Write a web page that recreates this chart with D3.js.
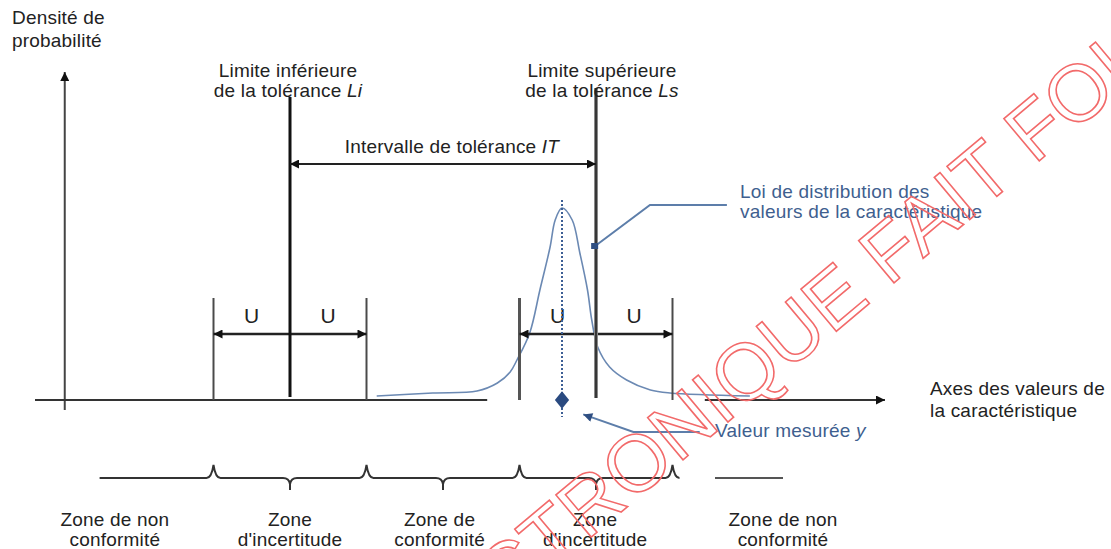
<!DOCTYPE html>
<html>
<head>
<meta charset="utf-8">
<script src="https://cdn.jsdelivr.net/npm/d3@7"></script>
<style>
  body { margin: 0; background: #fff; }
  svg text { font-family: "Liberation Sans", Arial, sans-serif; font-size: 19px; letter-spacing: 0.2px; fill: #222; }
  .blue { fill: #3f5f8f; }
</style>
</head>
<body>
<svg id="chart-area"></svg>
<script>
// Canvas size
const width = 1111, height = 549;

// Tolerance values (in units of the characteristic)
const Li = 30;          // lower tolerance limit
const Ls = 66;          // upper tolerance limit
const U = 9;            // measurement uncertainty
const yMeasured = 62;   // measured value

// Distribution curve
const curveX = [40.2, 46.8, 52.0, 54.4, 55.9, 56.7, 58.2, 59.4, 60.6, 61.2, 62.0, 63.2, 64.1, 65.0, 65.5, 66.2, 67.6, 69.6, 72.4, 74.7, 84.1];
const curveY = [0.02, 0.035, 0.045, 0.085, 0.14, 0.20, 0.335, 0.55, 0.765, 0.90, 0.96, 0.90, 0.735, 0.55, 0.40, 0.265, 0.165, 0.10, 0.05, 0.035, 0.02];

// Zones under the axis
const zoneBounds = [Li - U, Li + U, Ls - U, Ls + U];
const zoneLabelX = [9.4, 30, 47.6, 65.9, 88];
const zoneLabels = [
  ["Zone de non", "conformité"],
  ["Zone", "d'incertitude"],
  ["Zone de", "conformité"],
  ["Zone", "d'incertitude"],
  ["Zone de non", "conformité"]
];

// Scales
const x = d3.scaleLinear().domain([0, 100]).range([35, 885]);
const y = d3.scaleLinear().domain([0, 1]).range([400, 200]);

const svg = d3.select("#chart-area")
    .attr("width", width)
    .attr("height", height);

// Arrow markers
const defs = svg.append("defs");
defs.append("marker")
    .attr("id", "arr")
    .attr("viewBox", "0 0 10 10")
    .attr("refX", 10).attr("refY", 5)
    .attr("markerWidth", 11).attr("markerHeight", 9)
    .attr("markerUnits", "userSpaceOnUse")
    .attr("orient", "auto-start-reverse")
  .append("path")
    .attr("d", "M0,0 L10,5 L0,10 Z")
    .attr("fill", "#111");
defs.append("marker")
    .attr("id", "arrBlue")
    .attr("viewBox", "0 0 10 10")
    .attr("refX", 10).attr("refY", 5)
    .attr("markerWidth", 12).attr("markerHeight", 9)
    .attr("markerUnits", "userSpaceOnUse")
    .attr("orient", "auto")
  .append("path")
    .attr("d", "M0,0 L10,5 L0,10 Z")
    .attr("fill", "#2f4f82");

// Vertical axis (density)
svg.append("line")
    .attr("x1", x(3.5)).attr("x2", x(3.5))
    .attr("y1", y(-0.05)).attr("y2", y(1.64))
    .attr("stroke", "#444").attr("stroke-width", 2)
    .attr("marker-end", "url(#arr)");

// Horizontal axis (values of the characteristic)
svg.append("line")
    .attr("x1", x(0)).attr("x2", x(53.2))
    .attr("y1", y(0)).attr("y2", y(0))
    .attr("stroke", "#333").attr("stroke-width", 2);
svg.append("line")
    .attr("x1", x(78.8)).attr("x2", x(100))
    .attr("y1", y(0)).attr("y2", y(0))
    .attr("stroke", "#333").attr("stroke-width", 2)
    .attr("marker-end", "url(#arr)");

// Distribution curve
const line = d3.line()
    .x((d, i) => x(curveX[i]))
    .y(d => y(d))
    .curve(d3.curveCatmullRom);
svg.append("path")
    .attr("d", line(curveY))
    .attr("fill", "none")
    .attr("stroke", "#6b89b3")
    .attr("stroke-width", 1.6);

// Uncertainty bounds around each limit
zoneBounds.forEach((b, i) => {
  svg.append("line")
      .attr("x1", x(b)).attr("x2", x(b))
      .attr("y1", y(0.51)).attr("y2", y(0))
      .attr("stroke", i === 2 ? "#555" : "#4a4a4a")
      .attr("stroke-width", i === 2 ? 3 : 2);
});

// U arrows
[Li, Ls].forEach(L => {
  svg.append("line")
      .attr("x1", x(L - U)).attr("x2", x(L + U))
      .attr("y1", y(0.33)).attr("y2", y(0.33))
      .attr("stroke", "#222").attr("stroke-width", 2.5)
      .attr("marker-start", "url(#arr)")
      .attr("marker-end", "url(#arr)");
  svg.append("text").attr("x", x(L - U / 2)).attr("y", y(0.385))
      .attr("text-anchor", "middle").style("font-size", "21px").text("U");
  svg.append("text").attr("x", x(L + U / 2)).attr("y", y(0.385))
      .attr("text-anchor", "middle").style("font-size", "21px").text("U");
});

// Tolerance limits
svg.append("line")
    .attr("x1", x(Li)).attr("x2", x(Li))
    .attr("y1", y(1.515)).attr("y2", y(0.015))
    .attr("stroke", "#111").attr("stroke-width", 3);
svg.append("line")
    .attr("x1", x(Ls)).attr("x2", x(Ls))
    .attr("y1", y(1.56)).attr("y2", y(0.01))
    .attr("stroke", "#8a8a8a").attr("stroke-width", 4);
svg.append("line")
    .attr("x1", x(Ls)).attr("x2", x(Ls))
    .attr("y1", y(1.56)).attr("y2", y(0.01))
    .attr("stroke", "#222").attr("stroke-width", 1.6);

// Tolerance interval arrow
svg.append("line")
    .attr("x1", x(Li)).attr("x2", x(Ls))
    .attr("y1", y(1.18)).attr("y2", y(1.18))
    .attr("stroke", "#222").attr("stroke-width", 2)
    .attr("marker-start", "url(#arr)")
    .attr("marker-end", "url(#arr)");
const itText = svg.append("text")
    .attr("x", x((Li + Ls) / 2) + 9).attr("y", y(1.235))
    .attr("text-anchor", "middle");
itText.append("tspan").text("Intervalle de tolérance ");
itText.append("tspan").style("font-style", "italic").text("IT");

// Measured value
svg.append("line")
    .attr("x1", x(yMeasured)).attr("x2", x(yMeasured))
    .attr("y1", y(1.0)).attr("y2", y(-0.085))
    .attr("stroke", "#3d5f95").attr("stroke-width", 2)
    .attr("stroke-dasharray", "2,2");
svg.append("path")
    .attr("d", d3.symbol(d3.symbolCircle, 60)())
    .attr("transform", `translate(${x(yMeasured)},${y(0)})`)
    .attr("fill", "#2a4a80");
svg.append("path")
    .attr("d", d3.symbol(d3.symbolDiamond, 90)())
    .attr("transform", `translate(${x(yMeasured)},${y(0)}) scale(1.4,1)`)
    .attr("fill", "#2a4a80");

// Limit labels
function label2(cx, y1, lines, italicTail) {
  lines.forEach((t, i) => {
    const el = svg.append("text")
        .attr("x", cx).attr("y", y1 + i * 20)
        .attr("text-anchor", "middle");
    if (i === lines.length - 1 && italicTail) {
      el.append("tspan").text(t);
      el.append("tspan").style("font-style", "italic").text(italicTail);
    } else {
      el.text(t);
    }
  });
}
label2(x(Li) - 2, 77, ["Limite inférieure", "de la tolérance "], "Li");
label2(x(Ls) + 6, 77, ["Limite supérieure", "de la tolérance "], "Ls");

// Axis titles
svg.append("text").attr("x", 12).attr("y", 24).text("Densité de");
svg.append("text").attr("x", 12).attr("y", 47).text("probabilité");
svg.append("text").attr("x", 930).attr("y", 395).text("Axes des valeurs de");
svg.append("text").attr("x", 930).attr("y", 417).text("la caractéristique");

// Callout: distribution law
const distLeader = [[65.9, 0.77], [72.35, 0.975], [81.4, 0.975]];
svg.append("path")
    .attr("d", d3.line().x(d => x(d[0])).y(d => y(d[1]))(distLeader))
    .attr("fill", "none").attr("stroke", "#5d7eaa").attr("stroke-width", 2);
svg.append("rect")
    .attr("x", x(65.9) - 4).attr("y", y(0.77) - 3)
    .attr("width", 7).attr("height", 6)
    .attr("fill", "#2f4f82");
svg.append("text").attr("class", "blue").attr("x", 740).attr("y", 198).text("Loi de distribution des");
svg.append("text").attr("class", "blue").attr("x", 740).attr("y", 218).text("valeurs de la caractéristique");

// Callout: measured value
const measLeader = [[78.2, -0.16], [70.4, -0.16], [64.5, -0.072]];
svg.append("path")
    .attr("d", d3.line().x(d => x(d[0])).y(d => y(d[1]))(measLeader))
    .attr("fill", "none").attr("stroke", "#5d7eaa").attr("stroke-width", 2)
    .attr("marker-end", "url(#arrBlue)");
const vm = svg.append("text").attr("class", "blue").attr("x", 715).attr("y", 437);
vm.append("tspan").text("Valeur mesurée ");
vm.append("tspan").style("font-style", "italic").text("y");

// Braces under the axis
const by = 478;
let bp = `M${x(7.6)},${by}`;
zoneBounds.forEach((b, i) => {
  const c = x(b);
  if (i > 0) {
    const m = x((zoneBounds[i - 1] + b) / 2);
    bp += ` L${m - 7},${by} Q${m - 1},${by} ${m},${by + 6} L${m},${by + 12}`;
    bp += ` M${m},${by + 6} Q${m + 1},${by} ${m + 7},${by}`;
  }
  bp += ` L${c - 7},${by} Q${c - 2},${by} ${c},${by - 13} Q${c + 2},${by} ${c + 7},${by}`;
});
svg.append("path")
    .attr("d", bp)
    .attr("fill", "none").attr("stroke", "#333").attr("stroke-width", 2);
svg.append("line")
    .attr("x1", x(80)).attr("x2", x(88))
    .attr("y1", by).attr("y2", by)
    .attr("stroke", "#555").attr("stroke-width", 2);

// Zone labels
zoneLabels.forEach((lines, i) => {
  lines.forEach((t, j) => {
    svg.append("text")
        .attr("x", x(zoneLabelX[i])).attr("y", 526 + j * 20)
        .attr("text-anchor", "middle")
        .text(t);
  });
});

// Watermark
const wm = svg.append("g").attr("transform", "translate(889,287) rotate(-40)");
wm.append("text").attr("x", 0).attr("y", 0)
    .style("font-size", "80px").style("fill", "none").style("letter-spacing", "0px")
    .attr("stroke", "#f26a6a").attr("stroke-width", 1.6)
    .text("FAIT FOI");
wm.append("text").attr("x", -22).attr("y", 0)
    .attr("text-anchor", "end")
    .style("font-size", "80px").style("fill", "none").style("letter-spacing", "0px")
    .attr("stroke", "#f26a6a").attr("stroke-width", 1.6)
    .text("ÉLECTRONIQUE");
</script>
</body>
</html>
